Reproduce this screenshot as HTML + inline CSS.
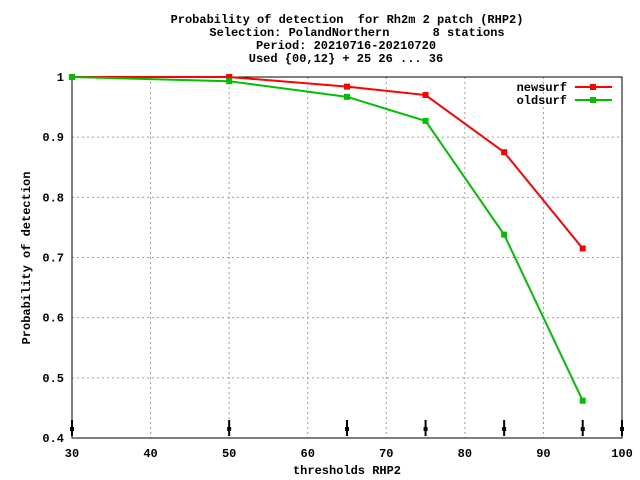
<!DOCTYPE html>
<html><head><meta charset="utf-8"><style>
body{margin:0;background:#fff}
svg{display:block}
text{font-family:"Liberation Mono",monospace;font-size:12px;font-weight:bold;fill:#000}
</style></head><body>
<svg width="640" height="480">
<g>
<text x="347" y="23" text-anchor="middle" xml:space="preserve">Probability of detection  for Rh2m 2 patch (RHP2)</text>
<text x="357" y="36" text-anchor="middle" xml:space="preserve">Selection: PolandNorthern      8 stations</text>
<text x="346" y="49" text-anchor="middle">Period: 20210716-20210720</text>
<text x="346" y="62" text-anchor="middle">Used {00,12} + 25 26 ... 36</text>
</g>
<g id="grid"></g>
<g id="axes"></g>
<g id="series"></g>
<text x="30" y="258" text-anchor="middle" transform="rotate(-90 30 258)">Probability of detection</text>
<text x="347" y="474" text-anchor="middle">thresholds RHP2</text>
</svg>
<script>
const xTicks=[30,40,50,60,70,80,90,100];
const yTicks=[0.4,0.5,0.6,0.7,0.8,0.9,1];
const yTickLabels=["0.4","0.5","0.6","0.7","0.8","0.9","1"];
const thresholds=[30,50,65,75,85,95];
const newsurf=[1.0,1.0,0.984,0.970,0.875,0.715];
const oldsurf=[1.0,0.993,0.967,0.927,0.738,0.462];
const arrowX=[30,50,65,75,85,95,100];
const L=72,R=622,T=77,B=438;
const X=v=>L+(v-30)/70*(R-L);
const Y=v=>B-(v-0.4)/0.6*(B-T);
const NS="http://www.w3.org/2000/svg";
function mk(p,tag,a){const e=document.createElementNS(NS,tag);for(const k in a)e.setAttribute(k,a[k]);p.appendChild(e);return e;}
const grid=document.getElementById('grid'),axes=document.getElementById('axes'),ser=document.getElementById('series');
xTicks.forEach(v=>{
 if(v>30&&v<100){const g=mk(grid,'line',{x1:X(v),x2:X(v),y1:T,y2:B,stroke:'#a0a0a0','stroke-dasharray':'2,3'});
 
 }
 const t=mk(axes,'text',{x:X(v),y:457,'text-anchor':'middle'});t.textContent=v;
 
 
});
yTicks.forEach((v,i)=>{
 if(v>0.4&&v<1){const g=mk(grid,'line',{x1:L,x2:R,y1:Y(v),y2:Y(v),stroke:'#a0a0a0','stroke-dasharray':'2,3'});
 
 }
 const t=mk(axes,'text',{x:64,y:Y(v)+4,'text-anchor':'end'});t.textContent=yTickLabels[i];
 
 
});
const fr=mk(axes,'rect',{x:L,y:T,width:R-L,height:B-T,fill:'none',stroke:'#000','stroke-width':1});


arrowX.forEach(v=>{
 const g=mk(axes,'g',{});
 
 
 mk(g,'line',{x1:X(v),x2:X(v),y1:420,y2:436,stroke:'#000','stroke-width':2});
 mk(g,'rect',{x:X(v)-2,y:427,width:4,height:4,fill:'#000'});
});
function series(vals,color,name,ly,label){
 const g=mk(ser,'g',{});
 
 
 mk(g,'polyline',{points:thresholds.map((t,i)=>X(t)+','+Y(vals[i])).join(' '),fill:'none',stroke:color,'stroke-width':2});
 thresholds.forEach((t,i)=>{const m=mk(g,'rect',{x:X(t)-3,y:Y(vals[i])-3,width:6,height:6,fill:color});
  
  });
 const lg=mk(ser,'g',{});
 
 
 const t=mk(lg,'text',{x:567,y:ly+4,'text-anchor':'end'});t.textContent=label;
 mk(lg,'line',{x1:575,x2:612,y1:ly,y2:ly,stroke:color,'stroke-width':2});
 mk(lg,'rect',{x:590,y:ly-3,width:6,height:6,fill:color});
}
series(newsurf,'#ff0000','newsurf-line',87,'newsurf');
series(oldsurf,'#00c000','oldsurf-line',100,'oldsurf');
</script>
</body></html>
